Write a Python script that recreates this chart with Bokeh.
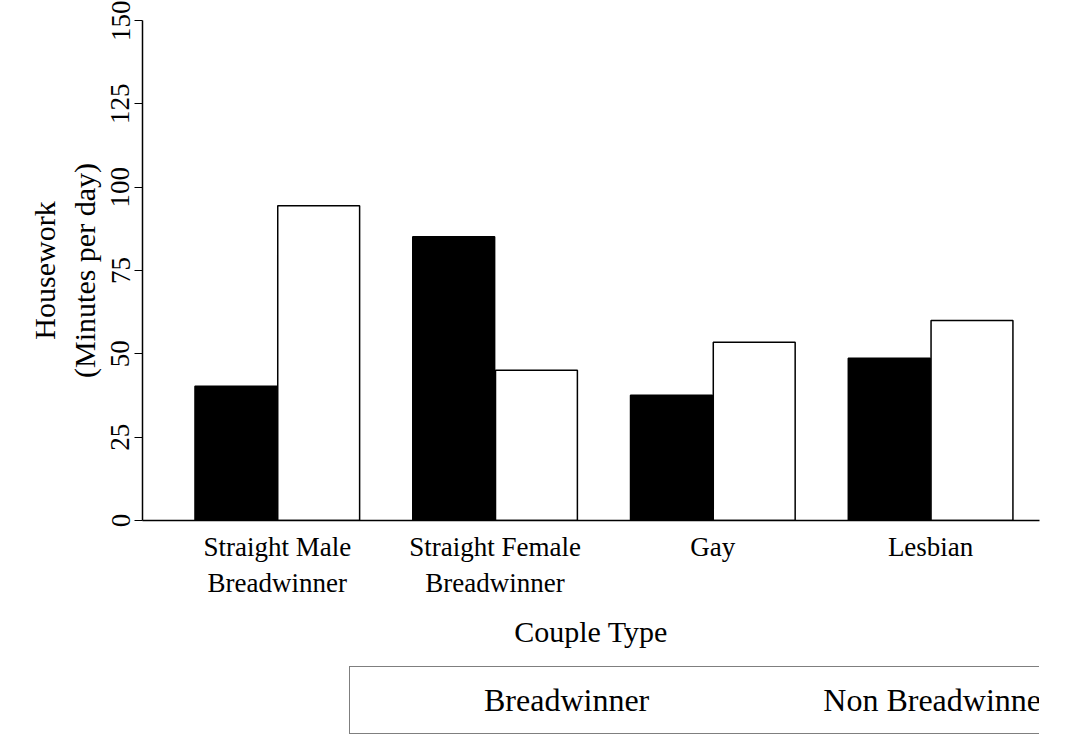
from bokeh.plotting import figure
from bokeh.models import ColumnDataSource, Legend, LegendItem, FixedTicker, Range1d
from bokeh.layouts import column
from bokeh.embed import file_html
from bokeh.resources import INLINE

categories = ["Straight Male\nBreadwinner", "Straight Female\nBreadwinner", "Gay", "Lesbian"]
breadwinner = [40.3, 85.1, 37.6, 48.7]
non_breadwinner = [94.4, 45.1, 53.5, 60.0]
y_ticks = [0, 25, 50, 75, 100, 125, 150]

FONT = "Liberation Serif"
xs = [1, 2, 3, 4]
p = figure(width=1060, height=650, output_backend="svg", toolbar_location=None,
           x_range=Range1d(0.381, 4.5), y_range=Range1d(0, 150),
           min_border_left=142, min_border_right=21, min_border_top=20, min_border_bottom=128)
p.outline_line_color = None
p.xgrid.visible = False
p.ygrid.visible = False

s1 = ColumnDataSource(dict(x=[x - 0.19 for x in xs], top=breadwinner))
s2 = ColumnDataSource(dict(x=[x + 0.19 for x in xs], top=non_breadwinner))
p.vbar(x="x", top="top", width=0.376, source=s1, fill_color="black", line_color="black", line_width=1.5)
p.vbar(x="x", top="top", width=0.376, source=s2, fill_color="white", line_color="black", line_width=1.5)

p.xaxis.ticker = FixedTicker(ticks=xs)
p.xaxis.major_label_overrides = {x: c for x, c in zip(xs, categories)}
p.xaxis.major_tick_line_color = None
p.xaxis.minor_tick_line_color = None
p.xaxis.axis_label = "Couple Type"
p.yaxis.ticker = FixedTicker(ticks=y_ticks)
p.yaxis.minor_tick_line_color = None
p.yaxis.major_label_orientation = "vertical"
p.yaxis.axis_label = "Housework\n(Minutes per day)"
p.yaxis.major_tick_out = 8
p.yaxis.major_tick_in = 0
for ax in (p.xaxis, p.yaxis):
    ax.axis_line_color = "black"
    ax.axis_line_width = 1.5
    ax.major_label_text_font = FONT
    ax.major_label_text_font_size = "27px"
    ax.major_label_text_color = "black"
    ax.axis_label_text_font = FONT
    ax.axis_label_text_font_size = "30px"
    ax.axis_label_text_font_style = "normal"
    ax.axis_label_text_color = "black"
p.yaxis.axis_label_standoff = 8
p.xaxis.axis_label_standoff = 14

p2 = figure(width=1060, height=96, output_backend="svg", toolbar_location=None,
            x_range=Range1d(0, 1), y_range=Range1d(0, 1), min_border=0)
p2.axis.visible = False
p2.grid.visible = False
p2.outline_line_color = None
e1 = p2.vbar(x=[], top=[], width=0.1, fill_color="black", line_color="black", line_width=1.5)
e2 = p2.vbar(x=[], top=[], width=0.1, fill_color="white", line_color="black", line_width=1.5)
legend = Legend(items=[LegendItem(label="Breadwinner", renderers=[e1]),
                       LegendItem(label="Non Breadwinner", renderers=[e2])],
                orientation="horizontal", location=(207, 12),
                glyph_width=104, glyph_height=42, spacing=52, padding=12, margin=0,
                label_text_font=FONT, label_text_font_size="32px", label_standoff=18,
                label_text_color="black", background_fill_alpha=0,
                border_line_color="black", border_line_width=1.5)
p2.add_layout(legend, "center")

open("out.html", "w").write(file_html(column(p, p2, spacing=0), INLINE))
